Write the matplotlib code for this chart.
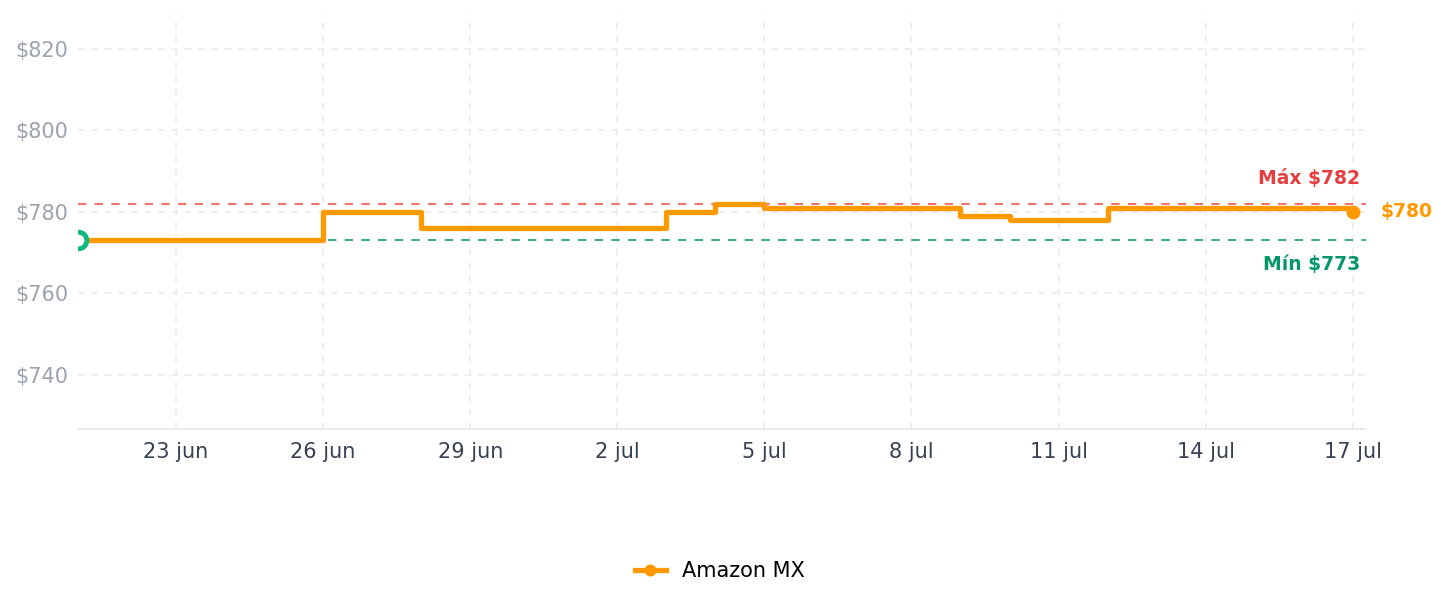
import matplotlib.pyplot as plt
import matplotlib.dates as mdates
import numpy as np
from datetime import datetime, timedelta

# price history (steps-post)
fechas = ["2025-06-21", "2025-06-26", "2025-06-28", "2025-07-03", "2025-07-04",
          "2025-07-05", "2025-07-09", "2025-07-10", "2025-07-12", "2025-07-17"]
precios = [773, 780, 776, 780, 782, 781, 779, 778, 781, 780]
precio_max = 782
precio_min = 773
meses = {6: "jun", 7: "jul"}
tienda = "Amazon MX"

x = [datetime.strptime(f, "%Y-%m-%d") for f in fechas]

naranja = "#FF9900"
fig = plt.figure(figsize=(14.47, 6.07), dpi=100)
ax = fig.add_axes([0.0539, 0.2932, 0.8901, 0.6821])

ax.plot(x, precios, drawstyle="steps-post", color=naranja, lw=3.8, zorder=4,
        solid_joinstyle="round", label=tienda, marker="o", markevery=[len(x) - 1],
        markersize=9)
ax.plot(x[0], precios[0], marker="o", ms=12, mfc="white", mec="#10B981", mew=3.5,
        zorder=6, clip_on=True)

ax.axhline(precio_max, color="#F07470", lw=1.5, ls=(0, (4, 4)), zorder=3)
ax.axhline(precio_min, color="#3FAE84", lw=1.5, ls=(0, (4, 4)), zorder=3)

ax.set_xlim(x[0], x[-1] + timedelta(hours=6.5))
ax.set_ylim(726.7, 828.3)

ax.text(0.9955, precio_max + 6.1, "Máx $%d" % precio_max, transform=ax.get_yaxis_transform(),
        ha="right", va="center", color="#E53E3E", fontsize=13.5, fontweight="bold")
ax.text(0.9955, precio_min - 5.9, "Mín $%d" % precio_min, transform=ax.get_yaxis_transform(),
        ha="right", va="center", color="#059669", fontsize=13.5, fontweight="bold")
ax.text(1.011, precios[-1], "$%d" % precios[-1], transform=ax.get_yaxis_transform(),
        ha="left", va="center", color=naranja, fontsize=13.5, fontweight="bold")

ticks = [x[0] + timedelta(days=2 + 3 * i) for i in range(9)]
ax.set_xticks(ticks)
ax.set_xticklabels(["%d %s" % (t.day, meses[t.month]) for t in ticks])
ax.set_yticks([740, 760, 780, 800, 820])
ax.set_yticklabels(["$%d" % v for v in [740, 760, 780, 800, 820]])

ax.grid(True, color="#EBEBEB", ls=(0, (4, 4)), lw=1.2)
ax.set_axisbelow(True)
for s in ["top", "right", "left"]:
    ax.spines[s].set_visible(False)
ax.spines["bottom"].set_color("#E5E7EB")
ax.spines["bottom"].set_linewidth(1.2)
ax.tick_params(axis="x", length=0, pad=9, labelsize=15, labelcolor="#374151")
ax.tick_params(axis="y", length=0, pad=7, labelsize=15, labelcolor="#9CA3AF")

fig.legend(loc="lower center", bbox_to_anchor=(0.4975, 0.012), frameon=False, fontsize=15,
           handlelength=1.5, markerscale=0.85)

fig.savefig("out.png", dpi=100)
